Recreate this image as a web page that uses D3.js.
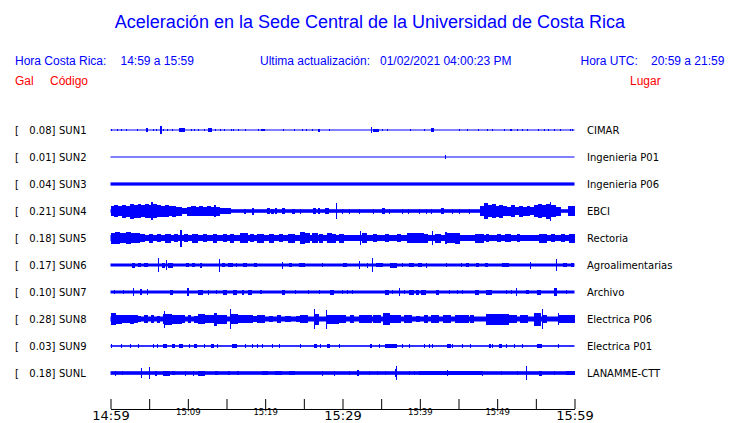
<!DOCTYPE html>
<html><head><meta charset="utf-8">
<script src="https://cdn.jsdelivr.net/npm/d3@7/dist/d3.min.js"></script>
<style>body{margin:0;background:#fff}svg{display:block}</style>
</head><body><svg id="c" width="740" height="423"></svg>
<script>
// ---------------- data ----------------
const codes  = ["SUN1","SUN2","SUN3","SUN4","SUN5","SUN6","SUN7","SUN8","SUN9","SUNL"];
const peaks  = ["0.08","0.01","0.04","0.21","0.18","0.17","0.10","0.28","0.03","0.18"];
const places = ["CIMAR","Ingenieria P01","Ingenieria P06","EBCI","Rectoria","Agroalimentarias","Archivo","Electrica P06","Electrica P01","LANAMME-CTT"];
// background (noise floor) half amplitude of each trace
const baseAmp = [0.5,0.5,1.6,1.8,3,1.5,1.5,2.5,0.8,1.8];
// bursts: [start minute, end minute, half amplitude]
const ev_SUN1 = [[0.05,0.2,1.2],[0.8,0.93,1.2],[1.3,1.43,1.2],[1.97,2.1,1.2],[3.39,3.52,1.2],[4.6,4.85,1.6],[5.53,5.66,1.2],[5.85,5.98,1.2],[6.45,6.6,3.6],[6.83,6.96,1.2],[7.27,7.4,1.2],[8.0,8.13,1.2],[8.86,9.63,1.8],[10.41,10.54,1.2],[10.84,10.97,1.2],[11.28,11.41,1.2],[12.13,12.26,1.2],[12.6,13.1,1.8],[13.51,13.64,1.2],[14.16,14.29,1.2],[14.72,14.85,1.2],[15.58,15.71,1.2],[15.88,16.01,1.2],[16.45,16.58,1.2],[17.39,17.52,1.2],[19.11,19.24,1.2],[19.46,19.95,1.2],[22.27,22.4,1.2],[23.69,23.82,1.2],[24.76,24.89,1.2],[25.32,25.45,1.2],[26.06,26.19,1.2],[26.83,27.05,1.5],[28.29,28.42,1.2],[33.68,33.82,2.8],[33.95,34.76,1.5],[35.11,35.24,1.2],[35.76,35.89,1.2],[38.77,38.9,1.2],[40.54,40.67,1.2],[41.4,41.83,2],[45.07,45.2,1.2],[46.14,46.27,1.2],[47.56,47.69,1.2],[48.73,48.86,1.2],[49.3,49.43,1.2],[50.89,51.02,1.2],[51.62,51.96,1.3],[52.6,52.73,1.2],[53.25,53.38,1.2],[53.9,54.03,1.2],[55.32,55.45,1.2],[56.06,56.19,1.2],[56.61,56.74,1.2],[57.35,57.48,1.2],[58.09,58.22,1.2],[59.38,59.51,1.2],[59.72,59.85,1.2]];
const ev_SUN2 = [[43.3,43.43,1.8]];
const ev_SUN3 = [];
const ev_SUN4 = [[0,0.5,5],[0.5,1,6],[1,1.5,5],[1.5,2,6.5],[2,2.5,5.5],[2.5,3,7.5],[3,3.5,6.5],[3.5,4,7],[4,4.5,6],[4.5,5,7],[5,5.3,6.5],[5.3,5.45,9],[5.45,6,7],[6,6.5,6],[6.5,7,5.5],[7,7.5,6],[7.5,8,5],[8,8.5,5.5],[8.5,9.2,4.5],[9.2,9.9,3],[9.9,10.4,4.5],[10.4,11,5],[11,11.5,4.5],[11.5,12,5],[12,12.5,4.5],[12.5,13,5],[13,13.4,4.5],[13.4,13.7,6],[13.7,14.2,4.5],[14.2,15,3],[15,15.6,2.8],[17.3,17.5,2.5],[18.35,18.5,3.5],[20.2,20.6,3],[20.8,21.2,2.5],[21.3,21.5,3],[22.2,22.6,3],[23.5,23.9,2.5],[24.5,24.63,2.5],[26.2,26.6,3],[26.8,27.1,2.8],[27.7,28.2,3],[29.2,29.33,8.3],[29.9,30.03,2.5],[30.8,30.93,2.5],[32.1,32.23,2.5],[34.0,34.13,2.5],[35.1,35.5,3],[36.0,36.13,2.5],[37.7,37.83,2.5],[38.5,38.63,2.5],[39.9,40.03,2.5],[40.8,40.93,2.5],[41.4,41.53,2.5],[42.7,43.1,3],[44.2,44.33,2.5],[45.1,45.23,2.5],[46.4,46.53,2.5],[47.8,48.3,5],[48.3,48.8,8],[48.8,49.3,6],[49.3,49.8,7],[49.8,50.3,5.5],[50.3,50.8,6.5],[50.8,51.3,5],[51.3,51.8,4.5],[51.8,52.3,6],[52.3,52.8,4],[52.8,53.3,5.5],[53.3,53.8,4.5],[53.8,54.3,5],[54.3,54.8,4],[54.8,55.3,6],[55.3,55.8,7],[55.8,56.3,6],[56.3,56.8,7.5],[56.8,56.95,9.5],[56.95,57.6,6],[57.6,58.3,4.5],[59.2,60,5]];
const ev_SUN5 = [[0,0.6,5.5],[0.6,1.2,6],[1.2,2,5],[2,2.7,6],[2.7,3.8,5],[3.8,4.5,4],[5,5.5,4.5],[6,6.5,4],[7,7.8,4.5],[8.2,8.7,4],[9.05,9.2,8.5],[9.5,10,4],[10.5,11.3,4.5],[12,12.5,4],[13.2,13.8,4.5],[14.5,15,4],[15.5,16,4.5],[16.8,17.8,5],[18,18.5,4],[19,19.8,4.5],[20.5,21.2,4.5],[21.8,22.3,4],[23,23.8,4.5],[24.5,25.2,6],[25.2,25.8,5],[26,26.8,5],[27,27.5,4.5],[28,28.6,5],[28.6,29.2,4.5],[29.5,30.2,4.5],[32.3,32.45,7],[32.5,33.2,5],[34,34.5,4],[35.5,36,4],[37,37.5,4],[38.3,39.5,5],[39.5,40.5,5],[40.5,41,4.5],[41.6,41.75,7],[42,42.8,4.5],[43.3,43.45,6],[43.5,44.5,5],[44.5,45.2,5.5],[47.1,48.3,4.5],[48.5,49,4],[50,50.5,4],[51,51.8,4],[52.5,53,4],[55.4,56.5,4.5],[57,57.5,4],[58.2,58.8,4],[59.3,60,4.5]];
const ev_SUN6 = [[2.74,3.17,2.5],[3.5,3.9,2],[4.3,4.8,2.2],[6.18,6.31,6.8],[6.66,7.05,2.5],[7.21,7.34,5],[7.44,8.08,2.5],[9.7,10.2,2],[10.5,10.9,1.8],[11.57,11.83,2.5],[14.07,14.2,6.5],[14.38,14.8,2],[15.19,15.84,2],[16.2,16.33,2],[17.1,17.6,1.8],[18.5,19,1.8],[22.2,22.33,3.5],[23.04,23.47,2],[24.34,25.19,2],[27.35,27.48,2],[30,30.6,1.8],[32.1,32.23,4],[33.15,33.28,2.5],[33.8,33.93,7],[34.3,35.2,2],[36.18,37.05,2.5],[37.7,37.83,2],[38.6,39.2,1.8],[39.7,40.3,1.8],[40.75,40.88,2.5],[43.35,43.48,2],[45.28,45.41,2],[46,46.4,1.8],[47.2,47.6,1.8],[48.4,48.8,1.8],[50.6,51.5,2],[54.22,54.35,3.5],[57.6,57.73,6],[58.5,59,2],[59.5,59.9,2]];
const ev_SUN7 = [[0.49,0.62,2],[1.6,1.73,2],[2.95,3.08,4],[3.81,4.07,3],[4.68,4.89,3],[7.69,8.12,2.5],[9.85,10.15,4],[11.31,11.96,2.5],[12.65,12.78,2.5],[13.6,13.8,2.3],[14.55,15.03,2.5],[15.84,16.36,2.5],[16.97,17.3,2.5],[17.8,18.26,2.5],[19.3,19.6,2.3],[22.18,22.56,2.5],[23.86,23.99,2.3],[25.6,25.73,2.3],[26.9,27.03,2.3],[28.38,28.86,2.5],[29.93,30.06,2.3],[30.57,30.7,2.3],[31.2,31.33,2.3],[35.53,35.97,2.5],[36.4,36.53,2.3],[37.27,37.4,4],[37.9,38.03,2.3],[38.56,39.3,2.5],[39.5,39.85,2.5],[40.11,40.76,2.5],[42.05,42.48,2.5],[43.77,43.9,2.3],[44.85,44.98,2.3],[45.5,45.63,2.3],[47.13,47.65,2.5],[48.52,49.37,2.5],[51.1,51.23,2.3],[51.75,51.88,2.3],[52.4,52.53,4],[53.7,54.1,2.3],[55.19,55.63,2.5],[57.35,57.78,3.8],[58.86,58.99,2.3]];
const ev_SUN8 = [[0,0.65,6],[0.65,1.5,4.5],[1.5,2.5,3.8],[2.5,3,4.5],[3,3.6,3.8],[3.6,4,3.3],[4.3,4.8,3.8],[5.2,5.6,3.8],[6,6.4,3.5],[6.8,7.0,5],[6.9,7.05,8.5],[7.1,8,5.5],[8,9.2,4.5],[9.2,9.6,3.8],[10,10.4,3.8],[10.8,11.3,3.5],[11.3,12.2,5],[12.2,13.4,3.8],[13.4,13.8,6.5],[13.8,15,4.5],[15.5,15.63,10],[15.6,16.5,5],[16.5,18.4,4.2],[18.4,19,3.3],[19,20,3.8],[20.5,21,3.3],[21.5,22,3.8],[22.5,23.3,3.3],[24,24.5,3.3],[24.5,25.5,3.6],[26.3,26.45,10],[26.45,27,5.5],[27.9,28.05,9.5],[28.05,29.5,4.5],[29.5,30.5,3.8],[31,31.5,3.6],[32.1,33.8,4.2],[34,35,3.8],[35.3,36.1,6],[36.1,37.5,4.2],[38,39,3.6],[39.5,40,3.3],[40.5,41,3.8],[41.5,42.5,3.6],[43,44,3.6],[44.6,46.3,4.2],[46.5,47,3.6],[48.5,51.5,5.5],[51.5,52.5,3.8],[53,54,3.6],[54.8,55.7,6.5],[55.75,55.88,10],[55.88,56.5,4],[57.9,58.03,6],[58,60,3.8]];
const ev_SUN9 = [[0.07,0.2,1.8],[1.36,1.53,1.8],[2.52,2.65,1.8],[3.6,3.73,1.8],[5.53,5.66,1.8],[5.97,6.1,1.8],[6.79,7.31,1.8],[7.95,8.34,1.8],[8.91,9.35,1.8],[10.15,10.28,1.8],[10.78,11.21,1.8],[12.08,12.21,1.8],[12.94,13.38,1.8],[13.8,13.93,1.8],[15.66,16.3,1.8],[17.4,17.53,1.8],[18.3,18.43,1.8],[18.9,19.03,1.8],[19.55,19.68,1.8],[20.88,21.01,1.8],[21.75,21.88,1.8],[24.54,24.67,1.8],[26.28,26.71,1.8],[27.13,27.26,1.8],[28,28.43,1.8],[29.51,29.64,1.8],[33.6,33.82,1.8],[34.68,34.81,1.8],[35.54,37.05,1.8],[37.7,37.83,1.8],[38.56,38.69,1.8],[40.54,40.67,1.8],[41.2,41.33,1.8],[41.6,41.73,1.8],[43.55,44,1.8],[44.2,44.33,1.8],[45.5,45.63,1.8],[46.5,46.63,1.8],[48.95,49.2,1.8],[49.37,49.5,1.8],[50.24,50.63,1.8],[51.1,51.3,1.8],[52.18,52.31,1.8],[53.25,53.38,1.8],[55.19,55.84,1.8],[57.9,58.03,1.8]];
const ev_SUNL = [[0.58,0.71,2.5],[1.45,1.58,2.3],[3.92,4.05,5],[5.02,5.15,6],[5.75,5.97,2.5],[6.79,7.7,2.5],[7.95,8.34,2.3],[9.63,9.76,2.5],[10.71,10.84,2.5],[11.3,12.2,2.5],[13.5,13.9,2.3],[15.2,15.5,2.2],[16.3,16.6,2.2],[19.6,20.4,2.3],[21.3,22.2,2.3],[23.05,23.86,2.3],[27.35,27.48,2.5],[28.86,28.99,2.5],[30.8,30.93,2.3],[31.88,32.14,3],[33.39,33.52,2.3],[34.46,34.59,2.3],[35.54,35.67,2.3],[36.83,37.0,4],[36.95,37.08,7],[38.56,38.69,2.3],[39.2,39.33,2.3],[39.9,48.1,2.3],[43.5,43.63,3],[48.08,48.21,2.5],[50.46,50.59,2.3],[52.6,52.73,2.3],[53.73,53.86,7],[55.4,55.84,2.5],[57.35,57.48,2.3],[58.9,60,2.3]];
const events = [ev_SUN1,ev_SUN2,ev_SUN3,ev_SUN4,ev_SUN5,ev_SUN6,ev_SUN7,ev_SUN8,ev_SUN9,ev_SUNL];
const tickMinutes = [0,5,10,15,20,25,30,35,40,45,50,55,60];
const tickLabels  = ["14:59","","15:09","","15:19","","15:29","","15:39","","15:49","","15:59"];
const bigTicks    = ["14:59","15:29","15:59"];

// ---------------- drawing ----------------
const BLUE = "#0000ff", RED = "#ff0000";
const svg = d3.select("#c");
const HF = "'Liberation Sans', Arial, Helvetica, sans-serif";
const LF = "'DejaVu Sans', Verdana, sans-serif";

svg.append("text").attr("x",370).attr("y",28).attr("text-anchor","middle")
  .attr("font-family",HF).attr("font-size",18).attr("fill",BLUE)
  .text("Aceleración en la Sede Central de la Universidad de Costa Rica");

const hdr = [
  {x:15,  t:"Hora Costa Rica:", c:BLUE, y:65},
  {x:120.5,t:"14:59 a 15:59", c:BLUE, y:65},
  {x:260, t:"Ultima actualización:", c:BLUE, y:65},
  {x:380, t:"01/02/2021 04:00:23 PM", c:BLUE, y:65},
  {x:580.5,t:"Hora UTC:", c:BLUE, y:65},
  {x:651, t:"20:59 a 21:59", c:BLUE, y:65},
  {x:15,  t:"Gal", c:RED, y:85},
  {x:50,  t:"Código", c:RED, y:85},
  {x:630, t:"Lugar", c:RED, y:85}
];
svg.selectAll("text.hdr").data(hdr).join("text").attr("class","hdr")
  .attr("x",d=>d.x).attr("y",d=>d.y).attr("fill",d=>d.c)
  .attr("font-family",HF).attr("font-size",12).text(d=>d.t);

const x = d3.scaleLinear().domain([0,60]).range([110.5,574.5]);
const row = d3.scalePoint().domain(codes).range([130,373]);
const amp = d3.scaleLinear().domain([0,13.5]).range([0,13.5]);

const rows = svg.selectAll("g.row").data(codes).join("g").attr("class","row")
  .attr("transform",d=>`translate(0,${row(d)})`);

rows.append("text").attr("x",15).attr("y",4).attr("font-family",LF).attr("font-size",10).attr("fill","#000").text("[");
rows.append("text").attr("x",55.5).attr("y",4).attr("text-anchor","end").attr("font-family",LF).attr("font-size",10).attr("fill","#000").text((d,i)=>peaks[i]+"]");
rows.append("text").attr("x",59).attr("y",4).attr("font-family",LF).attr("font-size",10).attr("fill","#000").text(d=>d);
rows.append("text").attr("x",587).attr("y",4).attr("font-family",LF).attr("font-size",10).attr("fill","#000").text((d,i)=>places[i]);

rows.each(function(code,i){
  const g = d3.select(this);
  const b = baseAmp[i];
  g.append("rect").attr("x",x(0)).attr("width",x(60)-x(0))
    .attr("y",-amp(b)).attr("height",2*amp(b)).attr("fill",BLUE);
  g.selectAll("rect.ev").data(events[i]).join("rect").attr("class","ev")
    .attr("x",d=>x(d[0])).attr("width",d=>Math.max(1,x(d[1])-x(d[0])))
    .attr("y",d=>-amp(d[2])).attr("height",d=>2*amp(d[2])).attr("fill",BLUE)
    .attr("shape-rendering","crispEdges");
});

const axis = d3.axisBottom(x).tickValues(tickMinutes).tickSizeInner(-10).tickSizeOuter(0)
  .tickFormat((d,i)=>tickLabels[i]);
const ga = svg.append("g").attr("transform","translate(0,409)").call(axis);
ga.select(".domain").attr("stroke","#000");
ga.selectAll(".tick line").attr("stroke","#000");
ga.selectAll(".tick text").attr("fill","#000").attr("font-family",LF)
  .attr("dy",null)
  .each(function(d,i){
    const big = bigTicks.includes(tickLabels[i]);
    d3.select(this).attr("font-size",big?13:8.5).attr("y",big?10.5:6.2);
  });
</script></body></html>
